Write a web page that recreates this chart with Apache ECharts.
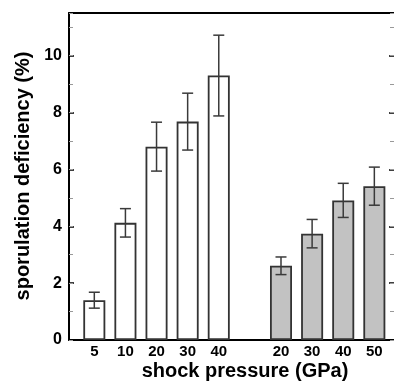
<!DOCTYPE html>
<html>
<head>
<meta charset="utf-8">
<script src="https://cdn.jsdelivr.net/npm/echarts@6/dist/echarts.min.js"></script>
<style>
html,body{margin:0;padding:0;background:#fff;}
#chart{width:394px;height:385px;}
</style>
</head>
<body>
<div id="chart"></div>
<script>
// Group 1 (white bars)
const whitePressures = ['5', '10', '20', '30', '40'];
const whiteMeans = [1.4, 4.12, 6.8, 7.68, 9.3];
const whiteErrors = [0.28, 0.5, 0.86, 1.0, 1.42];
// Group 2 (gray bars)
const grayPressures = ['20', '30', '40', '50'];
const grayMeans = [2.61, 3.74, 4.91, 5.41];
const grayErrors = [0.31, 0.5, 0.6, 0.67];
// Axis
const yMax = 11.5;
const yMajorStep = 2;
const yMinorStep = 1;
const xTitle = 'shock pressure (GPa)';
const yTitle = 'sporulation deficiency (%)';

const categories = whitePressures.concat([''], grayPressures);
const gapIndex = whitePressures.length;
const whiteData = categories.map((c, i) => i < gapIndex ? whiteMeans[i] : '-');
const grayData = categories.map((c, i) => i > gapIndex ? grayMeans[i - gapIndex - 1] : '-');
const errData = [];
whiteMeans.forEach((m, i) => errData.push([i, m - whiteErrors[i], m + whiteErrors[i]]));
grayMeans.forEach((m, i) => errData.push([gapIndex + 1 + i, m - grayErrors[i], m + grayErrors[i]]));

const FONT = 'Liberation Sans, Arial, sans-serif';
const chart = echarts.init(document.getElementById('chart'), null, {renderer: 'canvas'});

const frameLine = {show: true, onZero: false, lineStyle: {color: '#000', width: 2}};

chart.setOption({
  animation: false,
  backgroundColor: '#fff',
  grid: [
    {left: 69, right: 0, top: 13, bottom: 45},
    {left: 78.75, right: 4.1, top: 13, bottom: 45}
  ],
  xAxis: [
    {gridIndex: 0, type: 'value', min: 0, max: 1, position: 'bottom',
     axisLine: frameLine, axisLabel: {show: false}, axisTick: {show: false}, splitLine: {show: false}},
    {gridIndex: 0, type: 'value', min: 0, max: 1, position: 'top',
     axisLine: frameLine, axisLabel: {show: false}, axisTick: {show: false}, splitLine: {show: false}},
    {gridIndex: 1, type: 'category', data: categories, boundaryGap: true,
     axisLine: {show: false, onZero: false}, axisTick: {show: false}, splitLine: {show: false},
     axisLabel: {interval: 0, margin: 4, color: '#000', fontFamily: FONT, fontWeight: 'bold', fontSize: 15}}
  ],
  yAxis: [
    {gridIndex: 0, type: 'value', min: 0, max: yMax, interval: yMajorStep, position: 'left',
     axisLine: frameLine,
     axisTick: {show: true, inside: true, length: 5, lineStyle: {color: '#000', width: 1.5}},
     axisLabel: {show: true, margin: 7, showMaxLabel: false, color: '#000', fontFamily: FONT, fontWeight: 'bold', fontSize: 16,
       formatter: v => (v % yMajorStep === 0 ? String(v) : '')},
     splitLine: {show: false}},
    {gridIndex: 0, type: 'value', min: 0, max: yMax, interval: yMajorStep, position: 'right',
     axisLine: {show: false, onZero: false},
     axisTick: {show: true, inside: true, length: 5, lineStyle: {color: '#000', width: 1.5}},
     axisLabel: {show: false}, splitLine: {show: false}},
    {gridIndex: 0, type: 'value', min: 0, max: yMax, interval: yMinorStep, position: 'left',
     axisLine: {show: false, onZero: false},
     axisTick: {show: true, inside: true, length: 4, lineStyle: {color: '#999', width: 1}},
     axisLabel: {show: false}, splitLine: {show: false}},
    {gridIndex: 0, type: 'value', min: 0, max: yMax, interval: yMinorStep, position: 'right',
     axisLine: {show: false, onZero: false},
     axisTick: {show: true, inside: true, length: 4, lineStyle: {color: '#999', width: 1}},
     axisLabel: {show: false}, splitLine: {show: false}},
    {gridIndex: 1, type: 'value', min: 0, max: yMax, show: false}
  ],
  series: [
    {type: 'bar', xAxisIndex: 2, yAxisIndex: 4, data: whiteData, barWidth: 22, barGap: '-100%',
     itemStyle: {color: '#fff', borderColor: '#333', borderWidth: 1.8}, z: 2},
    {type: 'bar', xAxisIndex: 2, yAxisIndex: 4, data: grayData, barWidth: 22, barGap: '-100%',
     itemStyle: {color: '#c2c2c2', borderColor: '#333', borderWidth: 1.8}, z: 2},
    {type: 'custom', xAxisIndex: 2, yAxisIndex: 4, data: errData, z: 5,
     encode: {x: 0, y: [1, 2]},
     renderItem: function (params, api) {
       const x = api.value(0), lo = api.value(1), hi = api.value(2);
       const pLo = api.coord([x, lo]);
       const pHi = api.coord([x, hi]);
       const hw = 5.5;
       const st = {stroke: '#3a3a3a', lineWidth: 1.5};
       return {type: 'group', children: [
         {type: 'line', shape: {x1: pLo[0], y1: pLo[1], x2: pHi[0], y2: pHi[1]}, style: st},
         {type: 'line', shape: {x1: pLo[0] - hw, y1: pLo[1], x2: pLo[0] + hw, y2: pLo[1]}, style: st},
         {type: 'line', shape: {x1: pHi[0] - hw, y1: pHi[1], x2: pHi[0] + hw, y2: pHi[1]}, style: st}
       ]};
     }}
  ],
  graphic: [
    {type: 'text', x: 245, y: 371, style: {text: xTitle, fill: '#000', font: 'bold 20px ' + FONT, align: 'center', verticalAlign: 'middle'}},
    {type: 'text', x: 23, y: 176, rotation: Math.PI / 2, style: {text: yTitle, fill: '#000', font: 'bold 20px ' + FONT, align: 'center', verticalAlign: 'middle'}}
  ]
});
</script>
</body>
</html>
